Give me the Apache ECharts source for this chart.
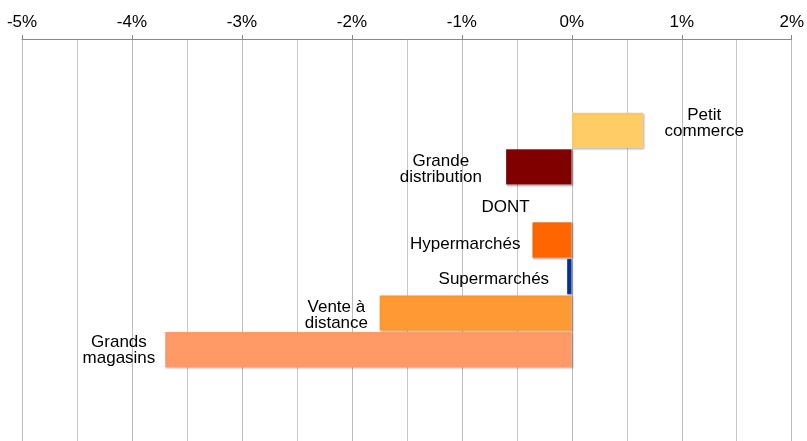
<!DOCTYPE html>
<html>
<head>
<meta charset="utf-8">
<script src="https://cdn.jsdelivr.net/npm/echarts@6/dist/echarts.min.js"></script>
<style>
    html, body { margin: 0; padding: 0; background: #ffffff; }
    #grafico { width: 807px; height: 441px; }
</style>
</head>
<body>
<div id="grafico"></div>
<script>
// --- Categorias (filas vacias arriba y abajo, como en el original) ---
const categorias = ["vacio1", "vacio2", "Petit commerce", "Grande distribution", "DONT",
    "Hypermarchés", "Supermarchés", "Vente à distance", "Grands magasins", "vacio3", "vacio4"];

// --- Variacion en % ---
const valores = [null, null, 0.65, -0.60, 0, -0.36, -0.045, -1.75, -3.70, null, null];

// --- Textos de las etiquetas ---
const etiquetas = ["", "", "Petit\ncommerce", "Grande\ndistribution", "DONT",
    "Hypermarchés", "Supermarchés", "Vente à\ndistance", "Grands\nmagasins", "", ""];

// --- Colores de las barras ---
const colores = ["", "", "#FFCC66", "#800000", "#FFFFFF", "#FF6600", "#003399", "#FF9933", "#FF9966", "", ""];

// --- Ajuste de posicion de cada etiqueta (px, centro del texto respecto al extremo de la barra) ---
const ajustes = [null, null, [61, -7], [-65, 2], [-66, 4], [-67, 4], [-73, 3], [-43, 2], [-46, 1], null, null];

var myChart = echarts.init(document.getElementById("grafico"));

const datosSerie = valores.map((v, i) => {
    if (v === null) return null;
    return {
        value: v,
        itemStyle: { color: colores[i] },
        label: {
            show: true,
            formatter: etiquetas[i],
            position: v > 0 ? "right" : "left",
            distance: 0,
            align: "center",
            verticalAlign: "middle",
            offset: ajustes[i]
        }
    };
});

myChart.setOption({
    animation: false,
    grid: { left: 22, right: 15, top: 39, height: 405 },
    xAxis: {
        type: "value",
        position: "top",
        min: -5,
        max: 2,
        interval: 1,
        axisLabel: {
            formatter: (v) => v + "%",
            fontFamily: "Liberation Sans",
            fontSize: 17,
            color: "#000",
            margin: 8
        },
        axisLine: { show: true, lineStyle: { color: "#888888" } },
        axisTick: { show: true, length: 4, lineStyle: { color: "#888888" } },
        splitLine: { show: true, lineStyle: { color: "#bdbdbd" } },
        minorTick: { show: false, splitNumber: 2 },
        minorSplitLine: { show: true, lineStyle: { color: "#c8c8c8" } }
    },
    yAxis: {
        type: "category",
        inverse: true,
        data: categorias,
        axisLabel: { show: false },
        axisTick: { show: false },
        axisLine: { show: false },
        splitLine: { show: false }
    },
    series: [
        {
            type: "bar",
            barCategoryGap: "2%",
            data: datosSerie,
            itemStyle: {
                borderColor: "rgba(255,255,255,0.3)",
                borderWidth: 0.5,
                shadowColor: "rgba(0,0,0,0.35)",
                shadowBlur: 2,
                shadowOffsetX: 1,
                shadowOffsetY: 1
            },
            label: {
                color: "#000",
                fontFamily: "Liberation Sans",
                fontSize: 17,
                lineHeight: 16
            }
        }
    ]
});
</script>
</body>
</html>
